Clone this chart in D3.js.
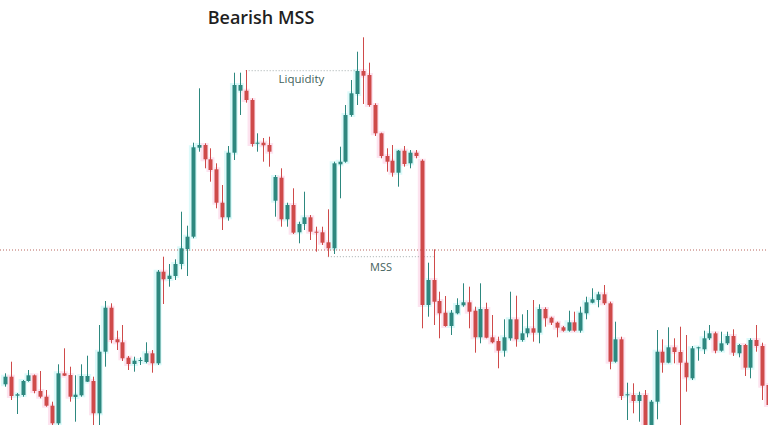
<!DOCTYPE html>
<html>
<head>
<meta charset="utf-8">
<script src="https://cdn.jsdelivr.net/npm/d3@7/dist/d3.min.js"></script>
<style>
  html, body { margin: 0; padding: 0; background: #fff; }
  svg { display: block; }
</style>
</head>
<body>
<div id="chart"></div>
<script>
const W = 768;
const H = 425;

// OHLC, one entry per candle
const opens = [
  2040.7, 2048.3, 2029.3, 2030, 2044, 2049.7, 2034, 2028.3, 2019.3, 2001.7,
  2051.7, 2050, 2028, 2029.7, 2043.3, 2044, 2011.7, 2073.3, 2117.3, 2085.7,
  2082.7, 2067.3, 2061, 2064, 2063, 2071.7, 2061.7, 2153.3, 2146, 2149,
  2161, 2176, 2188.3, 2277.3, 2280, 2265.7, 2255.7, 2222.3, 2207.7, 2272.3,
  2334.3, 2334.3, 2325, 2281.7, 2282.3, 2280, 2224.3, 2247.3, 2205.7, 2220,
  2192.7, 2201, 2207.7, 2193.3, 2192.7, 2182.7, 2176.7, 2260.7, 2263.3, 2310,
  2331, 2354, 2350, 2320, 2291.7, 2269, 2264.3, 2252.3, 2274.3, 2261.7,
  2272.3, 2264.3, 2120, 2145, 2124, 2112.3, 2099, 2111.7, 2119.7, 2122.7,
  2114.3, 2087.7, 2116, 2087.7, 2084, 2074.3, 2086.7, 2105.7, 2085, 2091.7,
  2096.7, 2092.3, 2116, 2107.3, 2102.3, 2097.7, 2094.3, 2102.7, 2094.3, 2111.7,
  2122.3, 2125, 2130.7, 2121.7, 2063.3, 2085.7, 2029.7, 2030, 2024, 2030,
  1993, 2023.3, 2073.3, 2062.3, 2077.7, 2073, 2062.3, 2046.7, 2076.7, 2075.7,
  2086.7, 2091.7, 2074.3, 2081.7, 2089, 2071.7, 2080, 2057.3, 2085, 2079,
  2040
];
const highs = [
  2051.7, 2063.3, 2032, 2045, 2055, 2050.5, 2054, 2035, 2023.3, 2060.7,
  2076.7, 2058.3, 2049.7, 2060.7, 2069.3, 2048.3, 2100, 2124, 2121.7, 2094.3,
  2100, 2069, 2068.3, 2067.7, 2082.7, 2075, 2155, 2168.3, 2161, 2165.7,
  2213.3, 2199.3, 2282.3, 2336.7, 2281.7, 2276.7, 2261.7, 2240, 2279, 2352.3,
  2352.3, 2355, 2326.7, 2291.7, 2287, 2288.3, 2250, 2256.7, 2222.3, 2236.7,
  2203.3, 2233.3, 2210, 2198.3, 2198.3, 2215.7, 2263.3, 2278.3, 2320, 2345,
  2373.3, 2387.7, 2362.3, 2321.7, 2292.3, 2276.7, 2280, 2275, 2279, 2275,
  2275, 2265.7, 2162.3, 2175.7, 2133.3, 2129, 2115, 2126.7, 2141.7, 2138.3,
  2118.3, 2141.7, 2122.3, 2110, 2088.3, 2105.7, 2133.3, 2129.3, 2110.7, 2115,
  2125, 2120.7, 2117.7, 2108.3, 2103.3, 2099, 2114.3, 2113.3, 2118.3, 2128.3,
  2136.7, 2133.3, 2140, 2123.3, 2103.3, 2088.3, 2042.3, 2041.7, 2033.3, 2035,
  2025, 2095, 2085.7, 2097.7, 2086.7, 2098.3, 2090, 2079, 2078.3, 2094.3,
  2100, 2093.3, 2093.3, 2093.3, 2095.7, 2081, 2081, 2086.7, 2100, 2082.3,
  2045
];
const lows = [
  2038.3, 2025, 2011, 2028.3, 2043.3, 2031.7, 2026.7, 2018.3, 1996, 1996,
  2049, 2023.3, 2003.3, 2028.3, 2043, 1996, 1996, 2058.3, 2081.7, 2075,
  2064, 2055, 2053.3, 2060, 2061.7, 2052.3, 2060, 2121, 2138.3, 2145,
  2155.7, 2149, 2186.7, 2273.3, 2256.7, 2243.3, 2216.7, 2195, 2204.3, 2265,
  2310, 2322.3, 2278.3, 2273.3, 2263.3, 2258.3, 2208.3, 2198.3, 2198.3, 2191,
  2181.7, 2195, 2185, 2173.3, 2180, 2168.3, 2171, 2226.7, 2262.3, 2308.3,
  2320, 2321, 2318.3, 2289, 2266.7, 2253.3, 2248.3, 2238.3, 2258.3, 2256.7,
  2266.7, 2096.7, 2108.3, 2100, 2086.7, 2098.3, 2090, 2110.7, 2118.3, 2096.7,
  2072.3, 2081.7, 2086.7, 2081.7, 2056.7, 2068.3, 2084.3, 2078.3, 2083.3, 2087.7,
  2083.3, 2081.7, 2098.3, 2100, 2087.7, 2093.3, 2093.3, 2093.3, 2092.3, 2105.7,
  2121.7, 2117.7, 2120, 2055.7, 2062.3, 2025, 2005, 2011.7, 2003.3, 1985,
  1985, 2005.7, 2052.3, 2061.7, 2061.7, 1985, 2033.3, 2045, 2064.3, 2071,
  2085, 2071.7, 2073.3, 2080, 2069, 2067.7, 2049, 2046.7, 2073.3, 2025,
  2015
];
const closes = [
  2048.3, 2029, 2030.7, 2044, 2049.7, 2034, 2028.3, 2019.3, 2001.7, 2051.7,
  2049.3, 2028.3, 2030.3, 2049, 2049, 2011.7, 2073.3, 2117.3, 2085, 2082.7,
  2066.7, 2061, 2064.3, 2065, 2071.7, 2061.7, 2153.3, 2145.7, 2149.3, 2161,
  2176.7, 2188.3, 2277.7, 2280, 2265.7, 2255, 2222.3, 2207.7, 2272.3, 2340,
  2340, 2325, 2281, 2282.3, 2279.7, 2273.3, 2248, 2205.7, 2220, 2192.3,
  2201, 2207.7, 2193.3, 2192.3, 2182.3, 2176.7, 2261.7, 2263.3, 2310, 2331.7,
  2354, 2349.3, 2320, 2291.7, 2269, 2263.3, 2252.3, 2274.3, 2261, 2272.3,
  2269, 2120, 2145, 2123.3, 2111.7, 2099, 2112.3, 2120, 2122.7, 2113.3,
  2087.7, 2116, 2087.3, 2082.7, 2074.3, 2087.7, 2105.7, 2085.7, 2091.7, 2096.7,
  2092.3, 2116, 2106.7, 2102.3, 2097.3, 2094.3, 2102.7, 2094.3, 2112.3, 2122.7,
  2125.7, 2130.7, 2121.7, 2063.3, 2085.7, 2029, 2030.7, 2024, 2030, 1993,
  2023.3, 2073.3, 2062.3, 2077.7, 2073, 2062.3, 2047.7, 2076.7, 2077.7, 2086.7,
  2091.7, 2074.3, 2081.7, 2089, 2072.3, 2080, 2057.3, 2085, 2079, 2039.3,
  2020
];

// annotation levels
const titleText = "Bearish MSS";
const liquidityLevel = 2354.3;
const liquidityRange = [41, 60];
const liquidityLabel = "Liquidity";
const mssLevel = 2168.3;
const mssRange = [55, 73];
const mssLabel = "MSS";
const breakLevel = 2175;

const candles = opens.map((o, i) => ({
  i, o, h: highs[i], l: lows[i], c: closes[i]
}));

const x = d3.scaleLinear()
  .domain([0, candles.length - 1])
  .range([5, 5 + (candles.length - 1) * 5.87]);

const y = d3.scaleLinear()
  .domain([2000, 2425])
  .range([H, 0]);

const upCol = "#2d887f";
const downCol = "#cf4a4a";
const bodyW = 4;

const svg = d3.select("#chart").append("svg")
  .attr("width", W)
  .attr("height", H);

// faint glow around candles, like the screenshot
const glow = svg.append("g");
glow.selectAll("rect")
  .data(candles)
  .join("rect")
  .attr("x", d => x(d.i) - bodyW / 2 - 2)
  .attr("width", bodyW + 4)
  .attr("y", d => y(Math.max(d.o, d.c)) - 2)
  .attr("height", d => Math.abs(y(d.o) - y(d.c)) + 4)
  .attr("fill", d => d.c >= d.o ? "#dcfafa" : "#fde3ef");

// break level (red dotted, full width)
svg.append("line")
  .attr("x1", 0).attr("x2", W)
  .attr("y1", y(breakLevel)).attr("y2", y(breakLevel))
  .attr("stroke", "#b8675e")
  .attr("stroke-width", 1)
  .attr("stroke-dasharray", "1,2");

// liquidity and mss lines
[[liquidityLevel, liquidityRange], [mssLevel, mssRange]].forEach(([lv, r]) => {
  svg.append("line")
    .attr("x1", x(r[0])).attr("x2", x(r[1]))
    .attr("y1", y(lv)).attr("y2", y(lv))
    .attr("stroke", "#a3acac")
    .attr("stroke-width", 1)
    .attr("stroke-dasharray", "1,2");
});

const g = svg.append("g");

g.selectAll("line.wick")
  .data(candles)
  .join("line")
  .attr("class", "wick")
  .attr("x1", d => Math.round(x(d.i)) + 0.5)
  .attr("x2", d => Math.round(x(d.i)) + 0.5)
  .attr("y1", d => y(d.h))
  .attr("y2", d => y(d.l))
  .attr("stroke", d => d.c >= d.o ? upCol : downCol)
  .attr("stroke-width", 1);

g.selectAll("rect.body")
  .data(candles)
  .join("rect")
  .attr("class", "body")
  .attr("x", d => Math.round(x(d.i)) + 0.5 - bodyW / 2)
  .attr("width", bodyW)
  .attr("y", d => y(Math.max(d.o, d.c)))
  .attr("height", d => Math.max(1, Math.abs(y(d.o) - y(d.c))))
  .attr("fill", d => d.c >= d.o ? upCol : downCol);

// labels
svg.append("text")
  .attr("x", 261)
  .attr("y", 24)
  .attr("text-anchor", "middle")
  .attr("font-family", "'Open Sans', sans-serif")
  .attr("font-weight", 600)
  .attr("font-size", 18)
  .attr("fill", "#1f1f1f")
  .text(titleText);

svg.append("text")
  .attr("x", (x(liquidityRange[0]) + x(liquidityRange[1])) / 2)
  .attr("y", y(liquidityLevel) + 12.5)
  .attr("text-anchor", "middle")
  .attr("font-family", "'Open Sans', sans-serif")
  .attr("font-size", 11.5)
  .attr("fill", "#3f5f5c")
  .text(liquidityLabel);

svg.append("text")
  .attr("x", 381)
  .attr("y", y(mssLevel) + 14)
  .attr("text-anchor", "middle")
  .attr("font-family", "'Open Sans', sans-serif")
  .attr("font-size", 11)
  .attr("fill", "#3f5f5c")
  .text(mssLabel);
</script>
</body>
</html>
